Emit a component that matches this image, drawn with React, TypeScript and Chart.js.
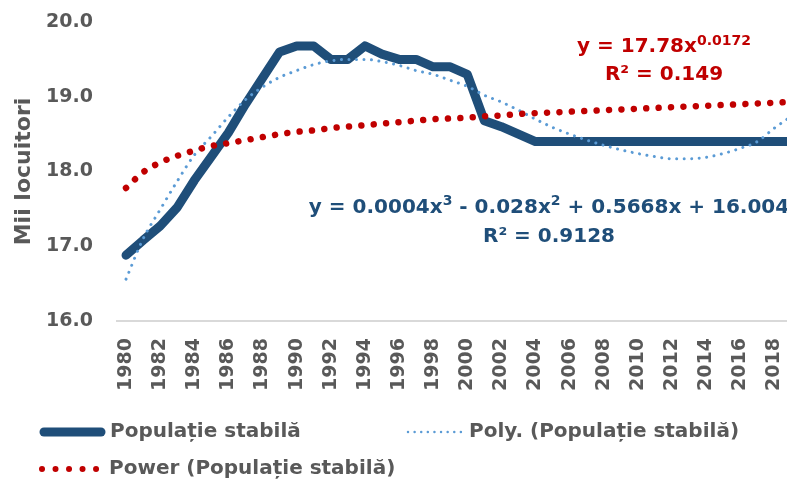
import React, { useEffect, useRef } from 'react';
import { Chart, registerables } from 'chart.js';

Chart.register(...registerables);

const years = [
  1980, 1981, 1982, 1983, 1984, 1985, 1986, 1987, 1988, 1989,
  1990, 1991, 1992, 1993, 1994, 1995, 1996, 1997, 1998, 1999,
  2000, 2001, 2002, 2003, 2004, 2005, 2006, 2007, 2008, 2009,
  2010, 2011, 2012, 2013, 2014, 2015, 2016, 2017, 2018, 2019,
];

const populatieStabila = [
  16.88, 17.08, 17.27, 17.52, 17.88, 18.2, 18.52, 18.9, 19.25, 19.6,
  19.68, 19.68, 19.5, 19.5, 19.68, 19.57, 19.5, 19.5, 19.4, 19.4,
  19.3, 18.68, 18.6, 18.5, 18.4, 18.4, 18.4, 18.4, 18.4, 18.4,
  18.4, 18.4, 18.4, 18.4, 18.4, 18.4, 18.4, 18.4, 18.4, 18.4,
];

const polyTrend = [
  16.56, 17.1, 17.49, 17.87, 18.22, 18.47, 18.73, 18.96, 19.13, 19.26,
  19.35, 19.43, 19.48, 19.5, 19.5, 19.47, 19.42, 19.35, 19.3, 19.22,
  19.14, 19.02, 18.93, 18.82, 18.7, 18.59, 18.5, 18.42, 18.35, 18.29,
  18.24, 18.2, 18.17, 18.17, 18.19, 18.24, 18.31, 18.4, 18.58, 18.74,
];

const powerTrend = [
  17.78, 17.99, 18.12, 18.21, 18.28, 18.34, 18.38, 18.42, 18.46, 18.5,
  18.53, 18.55, 18.58, 18.6, 18.62, 18.64, 18.66, 18.68, 18.7, 18.71,
  18.72, 18.74, 18.75, 18.77, 18.78, 18.79, 18.8, 18.81, 18.82, 18.83,
  18.84, 18.85, 18.86, 18.87, 18.88, 18.89, 18.9, 18.91, 18.92, 18.93,
];

const seriesLabels = ['Populație stabilă', 'Poly. (Populație stabilă)', 'Power (Populație stabilă)'];
const yAxisTitle = 'Mii locuitori';
const powerEquation = { main: 'y = 17.78x', sup: '0.0172', r2: 'R² = 0.149' };
const polyEquation = {
  parts: [
    { t: 'y = 0.0004x', sup: false },
    { t: '3', sup: true },
    { t: ' - 0.028x', sup: false },
    { t: '2', sup: true },
    { t: ' + 0.5668x + 16.004', sup: false },
  ],
  r2: 'R² = 0.9128',
};

const FONT = "'DejaVu Sans', sans-serif";
const GREY = '#595959';
const DARK_BLUE = '#1F4E79';
const LIGHT_BLUE = '#5B9BD5';
const RED = '#C00000';

const toPoints = (vals: number[]) => vals.map((v, i) => ({ x: years[i], y: v }));

const overlayPlugin = {
  id: 'overlay',
  afterDraw(chart: any) {
    const ctx: CanvasRenderingContext2D = chart.ctx;
    const area = chart.chartArea;
    ctx.save();

    // y-axis title, centred on the plot area height
    ctx.save();
    ctx.translate(24, (area.top + area.bottom) / 2);
    ctx.rotate(-Math.PI / 2);
    ctx.font = `bold 22px ${FONT}`;
    ctx.fillStyle = GREY;
    ctx.textAlign = 'center';
    ctx.textBaseline = 'middle';
    ctx.fillText(yAxisTitle, 0, 0);
    ctx.restore();

    const drawParts = (parts: { t: string; sup: boolean }[], cx: number, base: number, color: string, size: number, supSize: number, supRise: number) => {
      ctx.fillStyle = color;
      ctx.textBaseline = 'alphabetic';
      ctx.textAlign = 'left';
      let total = 0;
      const widths = parts.map((p) => {
        ctx.font = `bold ${p.sup ? supSize : size}px ${FONT}`;
        const w = ctx.measureText(p.t).width;
        total += w;
        return w;
      });
      let x = cx - total / 2;
      parts.forEach((p, i) => {
        ctx.font = `bold ${p.sup ? supSize : size}px ${FONT}`;
        ctx.fillText(p.t, x, p.sup ? base - supRise : base);
        x += widths[i];
      });
    };
    const drawCentered = (t: string, cx: number, base: number, color: string, size: number) => {
      ctx.fillStyle = color;
      ctx.font = `bold ${size}px ${FONT}`;
      ctx.textAlign = 'center';
      ctx.textBaseline = 'alphabetic';
      ctx.fillText(t, cx, base);
    };

    drawParts(
      [
        { t: powerEquation.main, sup: false },
        { t: powerEquation.sup, sup: true },
      ],
      664, 52, RED, 20, 14, 7,
    );
    drawCentered(powerEquation.r2, 664, 80, RED, 20);

    drawParts(polyEquation.parts, 549, 213, DARK_BLUE, 20, 14, 8);
    drawCentered(polyEquation.r2, 549, 242, DARK_BLUE, 20);

    // legend
    ctx.font = `bold 20px ${FONT}`;
    ctx.textAlign = 'left';
    ctx.textBaseline = 'middle';
    ctx.lineCap = 'round';

    ctx.strokeStyle = DARK_BLUE;
    ctx.lineWidth = 9;
    ctx.setLineDash([]);
    ctx.beginPath();
    ctx.moveTo(44, 432);
    ctx.lineTo(101, 432);
    ctx.stroke();
    ctx.fillStyle = GREY;
    ctx.fillText(seriesLabels[0], 110, 432);

    ctx.strokeStyle = LIGHT_BLUE;
    ctx.lineWidth = 2.5;
    ctx.setLineDash([0.01, 6.6]);
    ctx.beginPath();
    ctx.moveTo(408, 432);
    ctx.lineTo(462, 432);
    ctx.stroke();
    ctx.fillStyle = GREY;
    ctx.fillText(seriesLabels[1], 469, 432);

    ctx.strokeStyle = RED;
    ctx.lineWidth = 6;
    ctx.setLineDash([0.01, 13.5]);
    ctx.beginPath();
    ctx.moveTo(42, 469);
    ctx.lineTo(97, 469);
    ctx.stroke();
    ctx.fillStyle = GREY;
    ctx.fillText(seriesLabels[2], 109, 469);

    ctx.restore();
  },
};

export default function App() {
  const canvasRef = useRef<HTMLCanvasElement | null>(null);

  useEffect(() => {
    if (!canvasRef.current) return;
    const chart = new Chart(canvasRef.current, {
      type: 'line',
      data: {
        datasets: [
          {
            label: seriesLabels[0],
            data: toPoints(populatieStabila),
            borderColor: DARK_BLUE,
            borderWidth: 9,
            borderCapStyle: 'round',
            borderJoinStyle: 'round',
            pointRadius: 0,
            tension: 0,
            order: 3,
          },
          {
            label: seriesLabels[1],
            data: toPoints(polyTrend),
            borderColor: LIGHT_BLUE,
            borderWidth: 3,
            borderDash: [0.01, 7.5],
            borderCapStyle: 'round',
            pointRadius: 0,
            cubicInterpolationMode: 'monotone',
            order: 2,
          },
          {
            label: seriesLabels[2],
            data: toPoints(powerTrend),
            borderColor: RED,
            borderWidth: 6.5,
            borderDash: [0.01, 12.4],
            borderCapStyle: 'round',
            pointRadius: 0,
            cubicInterpolationMode: 'monotone',
            order: 1,
          },
        ],
      },
      options: {
        animation: false,
        responsive: false,
        events: [],
        layout: { padding: { left: 0, right: 0, top: 22, bottom: 94 } },
        plugins: {
          legend: { display: false },
          tooltip: { enabled: false },
        },
        scales: {
          x: {
            type: 'linear',
            min: 1979.47,
            max: 2018.74,
            grid: { display: false, drawTicks: false },
            border: { display: true, color: '#D9D9D9', width: 2 },
            ticks: {
              stepSize: 2,
              includeBounds: false,
              autoSkip: false,
              maxRotation: 90,
              minRotation: 90,
              padding: 17,
              color: GREY,
              font: { family: FONT, size: 19, weight: 'bold' },
              callback: (v: any) => String(v),
            },
            afterFit: (scale: any) => {
              scale.height = 70;
              scale.paddingLeft = 0;
              scale.paddingRight = 0;
              scale.paddingTop = 0;
              scale.paddingBottom = 0;
            },
          },
          y: {
            min: 16,
            max: 20,
            grid: { display: false, drawTicks: false },
            border: { display: false },
            ticks: {
              stepSize: 1,
              padding: 24,
              color: GREY,
              font: { family: FONT, size: 19, weight: 'bold' },
              callback: (v: any) => Number(v).toFixed(1),
            },
            afterFit: (scale: any) => {
              scale.width = 117;
              scale.paddingLeft = 0;
              scale.paddingRight = 0;
              scale.paddingTop = 0;
              scale.paddingBottom = 0;
            },
          },
        },
      },
      plugins: [overlayPlugin],
    });
    return () => chart.destroy();
  }, []);

  return (
    <div style={{ position: 'absolute', left: 0, top: 0, width: 787, height: 485, background: '#fff' }}>
      <canvas ref={canvasRef} width={787} height={485} />
    </div>
  );
}
